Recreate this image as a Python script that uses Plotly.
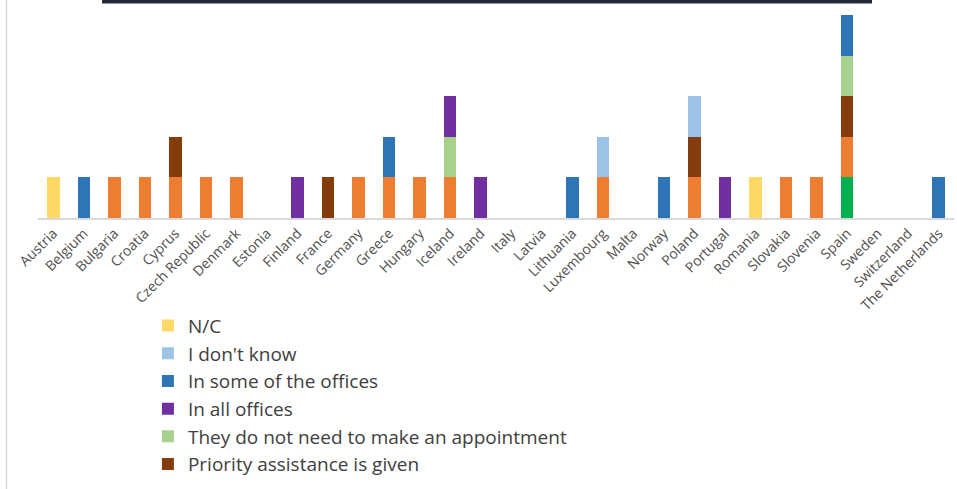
import plotly.graph_objects as go

countries = [
    "Austria", "Belgium", "Bulgaria", "Croatia", "Cyprus", "Czech Republic",
    "Denmark", "Estonia", "Finland", "France", "Germany", "Greece", "Hungary",
    "Iceland", "Ireland", "Italy", "Latvia", "Lithuania", "Luxembourg", "Malta",
    "Norway", "Poland", "Portugal", "Romania", "Slovakia", "Slovenia", "Spain",
    "Sweden", "Switzerland", "The Netherlands",
]

# Answer counts per country, one list per response (stacked bottom to top)
yes_always =      [0,0,0,0,0,0,0,0,0,0,0,0,0,0,0,0,0,0,0,0,0,0,0,0,0,0,1,0,0,0]
no_answer =       [0,0,1,1,1,1,1,0,0,0,1,1,1,1,0,0,0,0,1,0,0,1,0,0,1,1,1,0,0,0]
priority =        [0,0,0,0,1,0,0,0,0,1,0,0,0,0,0,0,0,0,0,0,0,1,0,0,0,0,1,0,0,0]
no_appointment =  [0,0,0,0,0,0,0,0,0,0,0,0,0,1,0,0,0,0,0,0,0,0,0,0,0,0,1,0,0,0]
all_offices =     [0,0,0,0,0,0,0,0,1,0,0,0,0,1,1,0,0,0,0,0,0,0,1,0,0,0,0,0,0,0]
some_offices =    [0,1,0,0,0,0,0,0,0,0,0,1,0,0,0,0,0,1,0,0,1,0,0,0,0,0,1,0,0,1]
dont_know =       [0,0,0,0,0,0,0,0,0,0,0,0,0,0,0,0,0,0,1,0,0,1,0,0,0,0,0,0,0,0]
not_answered =    [1,0,0,0,0,0,0,0,0,0,0,0,0,0,0,0,0,0,0,0,0,0,0,1,0,0,0,0,0,0]

series = [
    ("Yes", yes_always, "#00b050", False),
    ("No", no_answer, "#ed7d31", False),
    ("Priority assistance is given", priority, "#843c0c", True),
    ("They do not need to make an appointment", no_appointment, "#a9d18e", True),
    ("In all offices", all_offices, "#7030a0", True),
    ("In some of the offices", some_offices, "#2e75b6", True),
    ("I don't know", dont_know, "#9dc3e6", True),
    ("N/C", not_answered, "#ffd966", True),
]

fig = go.Figure()
for name, vals, color, show in series:
    fig.add_trace(go.Bar(
        x=countries, y=vals, name=name, marker_color=color,
        marker_line_width=0, showlegend=show,
    ))

fig.update_layout(
    width=957, height=489,
    margin=dict(l=38, r=3, t=15, b=271, autoexpand=False),
    barmode="stack", bargap=0.59,
    plot_bgcolor="white", paper_bgcolor="white",
    font=dict(family="Open Sans", color="#595959"),
    xaxis=dict(
        tickangle=-45, tickfont=dict(size=14, color="#505050"),
        showline=True, linecolor="#d9d9d9", linewidth=1.5,
        showgrid=False, ticks="", automargin=False,
    ),
    yaxis=dict(range=[0, 5], visible=False, showgrid=False),
    legend=dict(
        x=0.12, xanchor="left", y=-0.437, yanchor="top",
        traceorder="reversed",
        font=dict(size=19, color="#404040", family="Open Sans"),
        bgcolor="rgba(0,0,0,0)",
    ),
    shapes=[
        dict(type="rect", xref="paper", yref="paper",
             x0=0.0699, x1=0.9105, y0=1.0567, y1=1.09,
             fillcolor="#232b38", line_width=0),
        dict(type="line", xref="paper", yref="paper",
             x0=-0.0344, x1=-0.0344, y0=-1.4, y1=1.1,
             line=dict(color="#d9d9d9", width=1.5)),
    ],
)

fig.write_html("out.html")
